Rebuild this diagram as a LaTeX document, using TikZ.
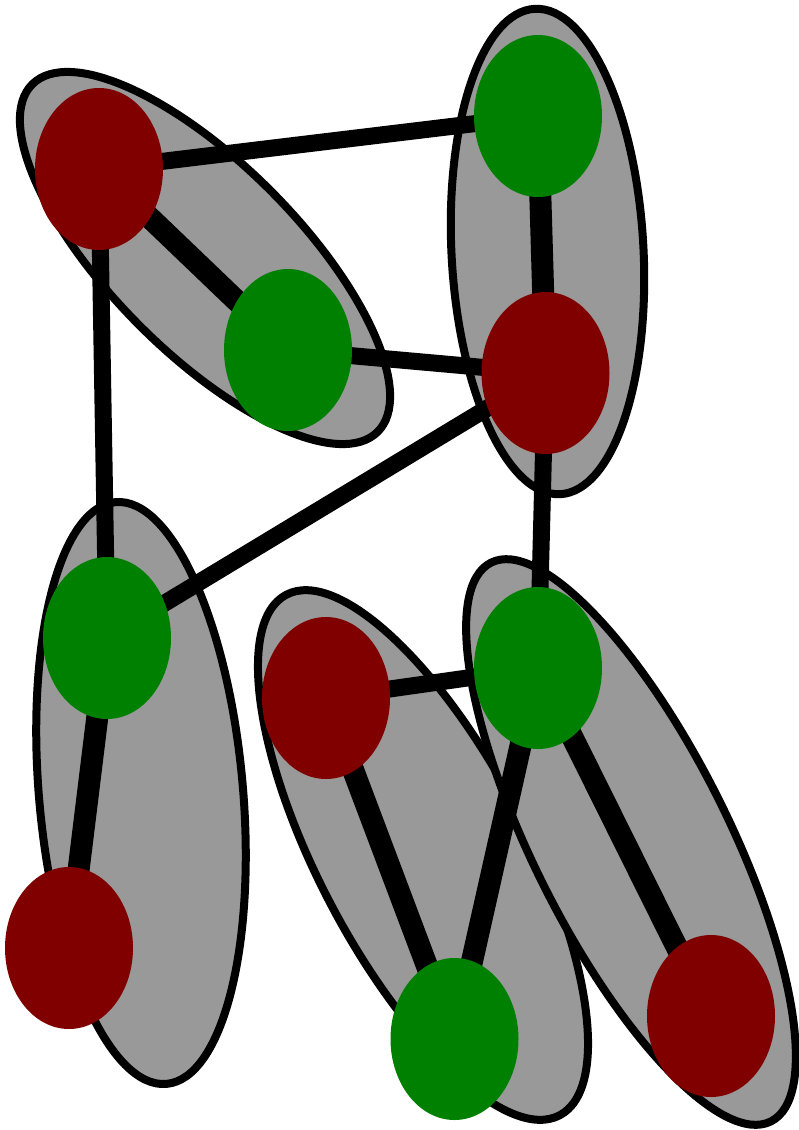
\documentclass[tikz,border=0pt]{standalone}
\usetikzlibrary{shapes.geometric,backgrounds}
\definecolor{spinred}{RGB}{128,0,0}
\definecolor{spingreen}{RGB}{0,128,0}
\definecolor{blockgray}{gray}{0.6}
\tikzset{
  site/.style={ellipse,inner sep=0pt,minimum width=128pt,minimum height=162pt},
  sitered/.style={site,fill=spinred},
  sitegreen/.style={site,fill=spingreen},
  block/.style 2 args={ellipse,inner sep=0pt,draw=black,fill=blockgray,line width=8pt,minimum width=#1,minimum height=#2},
  link/.style={line width=17pt},
  bond/.style={line width=22pt}
}

\begin{document}
\begin{tikzpicture}[x=1pt,y=-1pt]
  \useasboundingbox (0,0) rectangle (799,1130);

  % Sites
  \node[sitered]   (r1) at (99,169) {};
  \node[sitegreen] (g1) at (288,350) {};
  \node[sitegreen] (g2) at (538,116) {};
  \node[sitered]   (r2) at (545.5,373) {};
  \node[sitegreen] (g3) at (107,638) {};
  \node[sitered]   (r3) at (69,948) {};
  \node[sitered]   (r4) at (326,698) {};
  \node[sitegreen] (g4) at (538,668) {};
  \node[sitegreen] (g5) at (454.5,1039) {};
  \node[sitered]   (r5) at (711,1016) {};

  \begin{scope}[on background layer]
    % Blocks
    \node[block={490pt}{188pt},rotate=-45.2] (b1) at (205,258) {};
    \node[block={486pt}{192pt},rotate=-87]   (b2) at (547.5,251.5) {};
    \node[block={584pt}{204pt},rotate=-85]   (b3) at (141,793) {};
    \node[block={588pt}{209pt},rotate=-62.3] (b4) at (423,855) {};
    \node[block={625pt}{195pt},rotate=-63.4] (b5) at (631,842) {};

    % Bonds inside blocks
    \draw[bond] (r1.center) -- (g1.center);
    \draw[bond] (g2.center) -- (r2.center);
    \draw[bond] (g3.center) -- (r3.center);
    \draw[bond] (r4.center) -- (g5.center);
    \draw[bond] (g4.center) -- (r5.center);

    % Links between blocks
    \draw[link] (r1.center) -- (g2.center);
    \draw[link] (r1.center) -- (g3.center);
    \draw[link] (g1.center) -- (r2.center);
    \draw[link] (r2.center) -- (g3.center);
    \draw[link] (r2.center) -- (g4.center);
    \draw[link] (r4.center) -- (g4.center);
    \draw[bond] (g4.center) -- (g5.center);
  \end{scope}
\end{tikzpicture}
\end{document}
